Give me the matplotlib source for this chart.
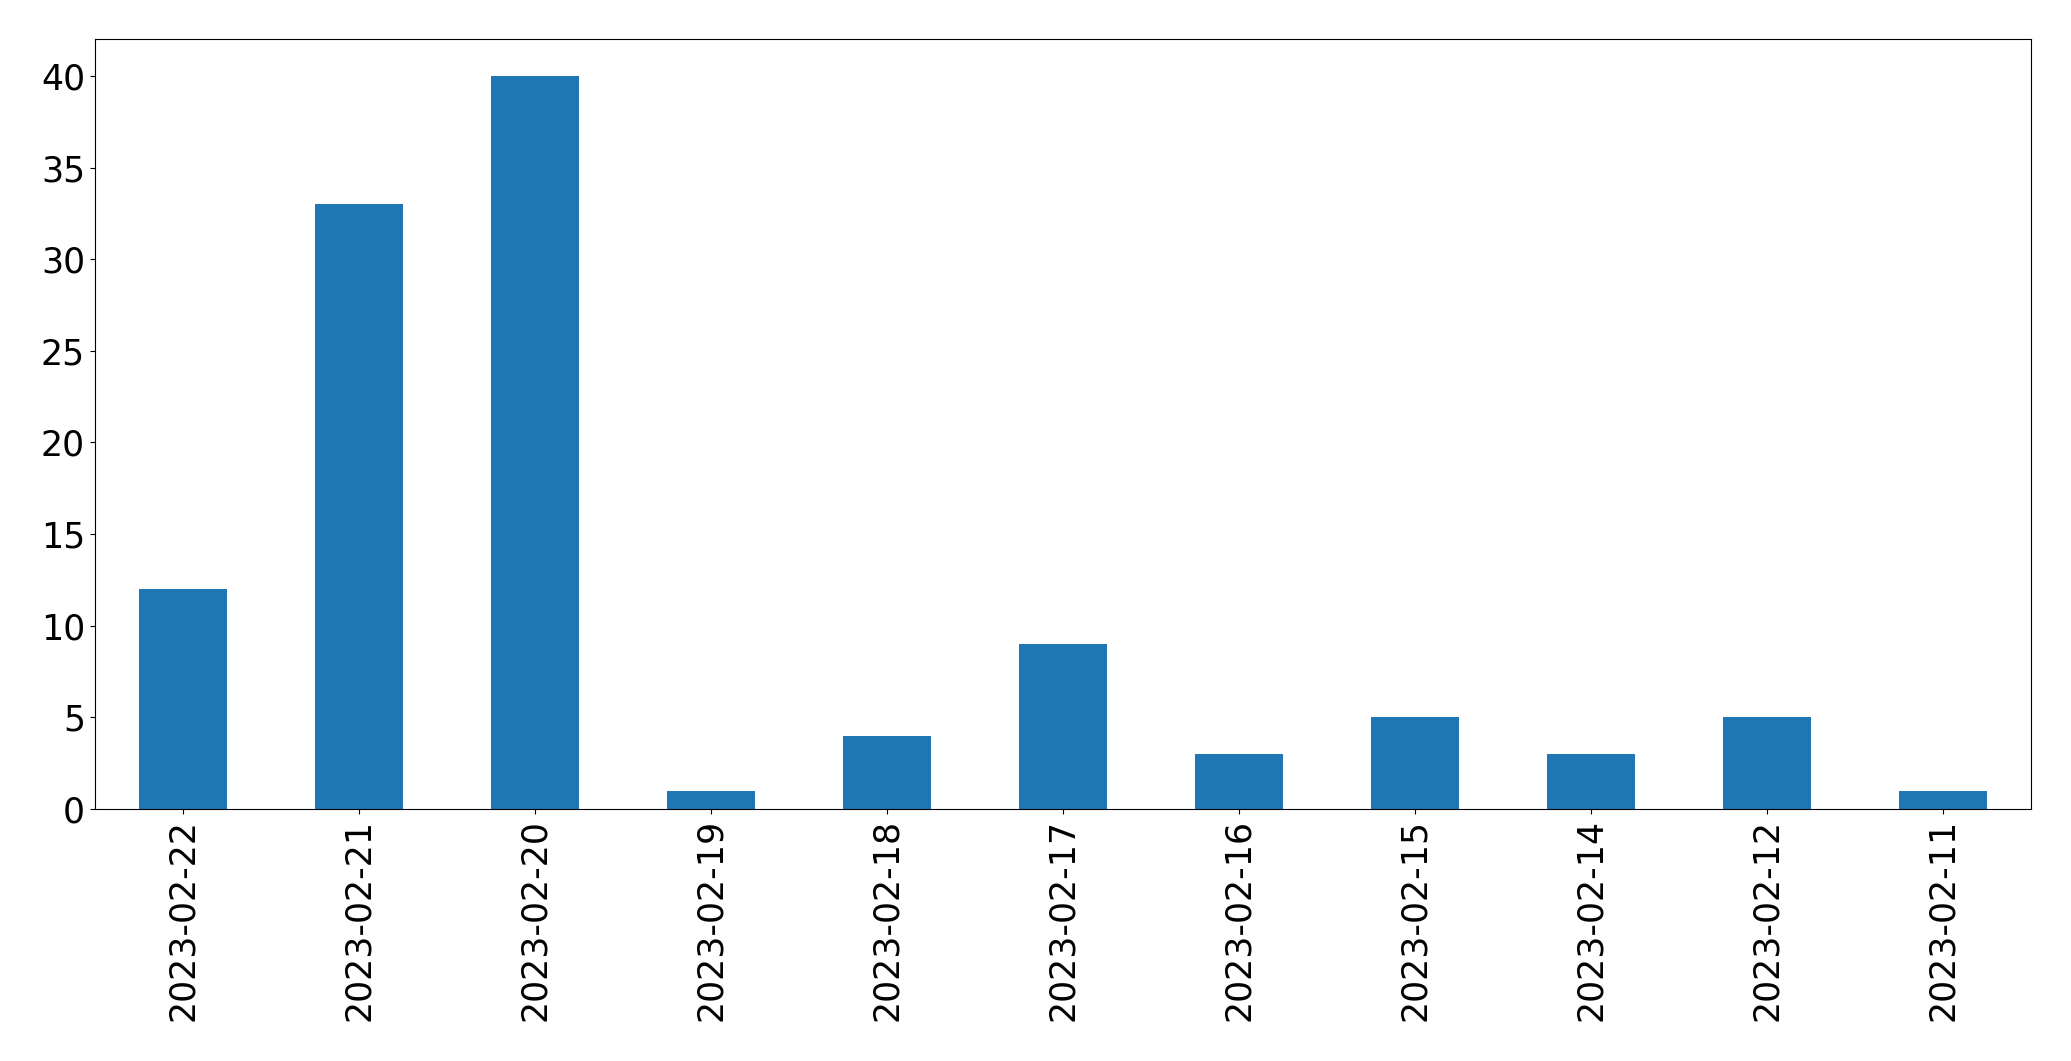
import matplotlib
matplotlib.use("Agg")
import matplotlib.pyplot as plt
import numpy as np

dates = ["2023-02-22", "2023-02-21", "2023-02-20", "2023-02-19", "2023-02-18",
         "2023-02-17", "2023-02-16", "2023-02-15", "2023-02-14", "2023-02-12",
         "2023-02-11"]
counts = [12, 33, 40, 1, 4, 9, 3, 5, 3, 5, 1]

fig = plt.figure(figsize=(20.71, 10.61), dpi=100)
ax = fig.add_axes([94.7 / 2071, 1 - 809 / 1061, (2031.3 - 94.7) / 2071, (809 - 39.3) / 1061])

x = np.arange(len(dates))
ax.bar(x, counts, width=0.5, color="#1f77b4")
ax.set_xlim(-0.5, len(dates) - 0.5)
ax.set_ylim(0, max(counts) * 1.05)
ax.set_xticks(x)
ax.set_xticklabels(dates, rotation=90)
ax.tick_params(axis="both", labelsize=25)

fig.savefig("out.png", dpi=100)
